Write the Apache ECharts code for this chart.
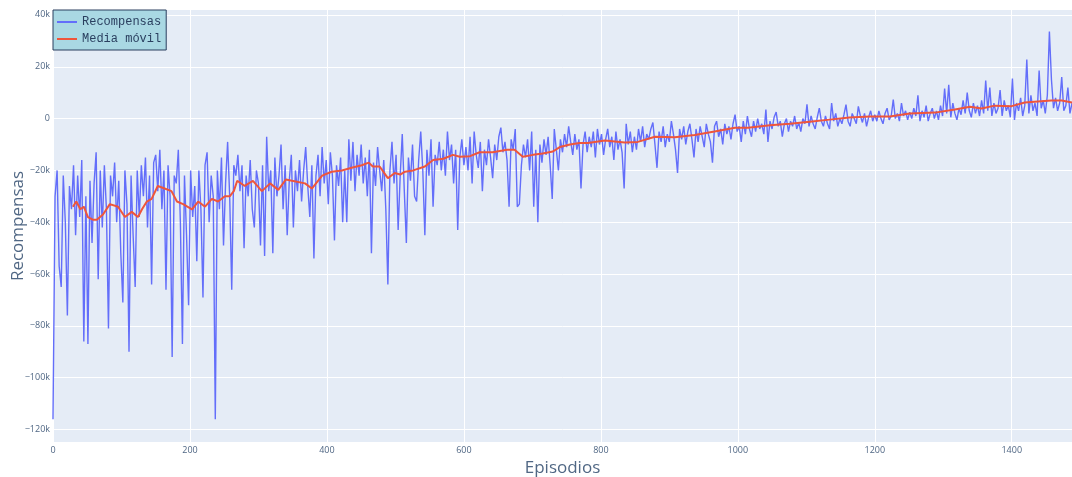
<!DOCTYPE html>
<html><head><meta charset="utf-8">
<script src="https://cdn.jsdelivr.net/npm/echarts@6/dist/echarts.min.js"></script>
<style>html,body{margin:0;padding:0;background:#fff}#c{width:1072px;height:477px}</style>
</head><body><div id="c"></div>
<script>
// Episode spacing of the sampled reward series
const episodeStep = 3;
const rewards = [
-116,-30,-20,-57,-65,-22,-40,-76,-26,-35,
-18,-45,-22,-38,-16,-86,-30,-87,-24,-48,
-25,-13,-62,-20,-42,-18,-35,-81,-22,-30,
-17,-40,-24,-52,-71,-20,-33,-90,-22,-45,
-65,-20,-38,-18,-30,-15,-42,-22,-64,-17,
-14,-28,-12,-35,-20,-66,-18,-30,-92,-22,
-25,-12,-40,-87,-22,-45,-72,-20,-38,-26,
-55,-20,-35,-69,-18,-13,-40,-22,-30,-116,
-20,-35,-15,-49,-25,-9,-30,-66,-18,-22,
-14,-28,-18,-50,-22,-30,-16,-35,-42,-20,
-25,-49,-18,-53,-7,-28,-20,-52,-15,-30,
-22,-10,-35,-18,-45,-24,-14,-42,-20,-28,
-16,-32,-20,-11,-26,-38,-18,-54,-22,-14,
-30,-11,-25,-16,-33,-13,-22,-47,-18,-26,
-15,-40,-20,-40,-8,-24,-9,-28,-14,-22,
-10,-25,-15,-30,-12,-52,-17,-26,-11,-20,
-28,-16,-35,-64,-20,-9,-25,-14,-43,-22,
-6,-28,-48,-15,-24,-10,-30,-32,-16,-5,
-20,-45,-12,-22,-8,-34,-14,-18,-9,-20,
-12,-22,-5,-16,-10,-25,-12,-43,-15,-8,
-18,-11,-20,-7,-25,-5,-14,-19,-9,-28,
-12,-18,-8,-15,-23,-10,-16,-7,-3.5,-13,
-9,-16,-34,-8,-12,-4,-34,-33,-18,-10,
-15,-8,-20,-5,-34,-12,-40,-10,-17,-8,
-14,-7,-18,-31,-4,-12,-20,-8,-13,-6,
-11,-3,-9,-14,-6,-12,-8,-27,-10,-5,
-13,-7,-11,-5,-15,-4,-10,-6,-14,-8,
-4,-11,-7,-16,-5,-12,-8,-13,-27,-2,
-10,-5,-13,-7,-12,-4,-9,-3,-11,-6,
-8,-4,-1.5,-10,-19,-5,-9,-3,-11,-6,
-9,-1,-6,-12,-21,-4,-8,-3,-10,-5,
-2,-8,-15,-4,-9,-3,-7,-11,-2,-6,
-9,-17,-3,-1,-7,-4,-10,-2,-6,-3,
-8,-2,1.5,-5,-3,-9,-1,-6,1,-4,
-7,-1,-5,0,-4,-2,-6,3.5,-9,-1,
-4,0.5,2.5,-3,-1,-7,-2,0,-5,-1,
-3,1,-4,-1.5,-5,0,-2,5.5,-3,1,
-2,-4,0.5,4,-1,-3,1,-2,-4,6,
-1,2,-3,0,-2,1.5,5.4,-1,-3,2,
0,-2,4.7,1,-1.5,2,-3,0.5,3,-1,
1.5,-1,3,0,-2,2,4,-0.5,1,7.3,
0,2,-1,6,1,3,-0.5,2.5,0,4,
1,9,-1,3,0.5,5,-1,2,4,0,
3,-0.5,5,1,11.6,2,13,0.5,6,2,
-0.5,4,1.5,7,2,10,3,0.5,6,2,
5,1,7,2,14.7,3,12,1,6,2,
4,11,1,7,3,5,0.5,15.5,-0.5,6,
3,8,1,5,22.8,2,9,3,6,1,
18.5,4,7,2,9,33.6,15,4,8,3,
6,16,3,5,12,2,6
];
// Moving average (thousands)
const maEpisodes = [29,34,40,45,51,58,64,73,83,95,105,115,124,130,137,144,153,163,173,181,190,203,212,222,232,241,251,258,264,269,280,292,305,317,329,340,349,368,378,393,407,422,436,451,461,467,477,489,499,507,514,526,543,555,570,584,594,609,623,642,663,674,686,701,715,730,740,755,769,781,806,835,854,879,908,937,966,996,1015,1047,1076,1105,1134,1163,1193,1222,1251,1288,1317,1339,1356,1375,1400,1419,1438,1458,1473,1488];
const maValues = [-34,-32,-35,-34,-38,-39,-39,-37,-33,-34,-38,-36,-38,-35,-32,-31,-26,-27,-28,-32,-33,-35,-32,-34,-31,-32,-30,-30,-28,-24,-26,-24,-28,-25,-27.5,-23.5,-24,-25,-27,-22,-20.5,-20,-19,-18,-17,-18.5,-18.5,-23,-21,-21.6,-20.5,-20,-18.5,-16,-15.5,-14,-14.7,-14.5,-13,-13,-12,-12,-14.7,-14,-13.5,-12.7,-11,-10,-9.4,-9.4,-8.5,-9.2,-9,-7,-7.2,-6.3,-5,-3.5,-3.5,-2.6,-2,-1.2,-0.4,0.4,0.8,0.8,2,2.3,3.5,4.6,3.9,5,4.8,6.2,6.6,7,7,6.2];
const xTicks = [0,200,400,600,800,1000,1200,1400];
const yTicks = [-120,-100,-80,-60,-40,-20,0,20,40];

const rewardData = rewards.map((v,i)=>[i*episodeStep, v]);
const maData = maEpisodes.map((e,i)=>[e, maValues[i]]);

const chart = echarts.init(document.getElementById('c'), null, {renderer:'canvas'});
const tickFont = {fontFamily:'Open Sans', fontSize:9, color:'#506784'};
chart.setOption({
  animation:false,
  backgroundColor:'#ffffff',
  grid:{left:53, right:0, top:10, bottom:35, show:true, backgroundColor:'#e5ecf6', borderWidth:0,
        containLabel:false, outerBoundsMode:'none'},
  legend:{
    left:53, top:10, orient:'vertical', padding:[6,5,5,4], itemGap:5,
    itemWidth:20, itemHeight:2, icon:'rect',
    backgroundColor:'#a9d8e3', borderColor:'#2a3f5f', borderWidth:1,
    textStyle:{fontFamily:'Liberation Mono', fontSize:12, color:'#2a3f5f'},
    data:['Recompensas','Media móvil']
  },
  xAxis:{
    type:'value', min:0, max:1488,
    name:'Episodios', nameLocation:'middle', nameGap:16,
    nameTextStyle:{fontFamily:'Open Sans', fontSize:17, color:'#506784', verticalAlign:'top'},
    axisLine:{show:false}, axisTick:{show:false, customValues:xTicks},
    axisLabel:Object.assign({customValues:xTicks, margin:4, formatter:v=>String(v)}, tickFont),
    splitLine:{show:true, lineStyle:{color:'#ffffff', width:1}}
  },
  yAxis:{
    type:'value', min:-124.8, max:41.9,
    name:'Recompensas', nameLocation:'middle', nameGap:26, nameRotate:90, nameMoveOverlap:false,
    nameTextStyle:{fontFamily:'Open Sans', fontSize:17, color:'#506784'},
    axisLine:{show:false}, axisTick:{show:false, customValues:yTicks},
    axisLabel:Object.assign({customValues:yTicks, margin:3,
      formatter:v=> v===0 ? '0' : (v<0?'\u2212':'') + Math.abs(v) + 'k'}, tickFont),
    splitLine:{show:true, lineStyle:{color:'#ffffff', width:1}}
  },
  series:[
    {name:'Recompensas', type:'line', data:rewardData, symbol:'none', color:'#636efa',
     lineStyle:{width:1.4, color:'#636efa'}, z:2},
    {name:'Media móvil', type:'line', data:maData, symbol:'none', color:'#ef553b',
     lineStyle:{width:2, color:'#ef553b'}, z:3}
  ]
});
</script></body></html>
